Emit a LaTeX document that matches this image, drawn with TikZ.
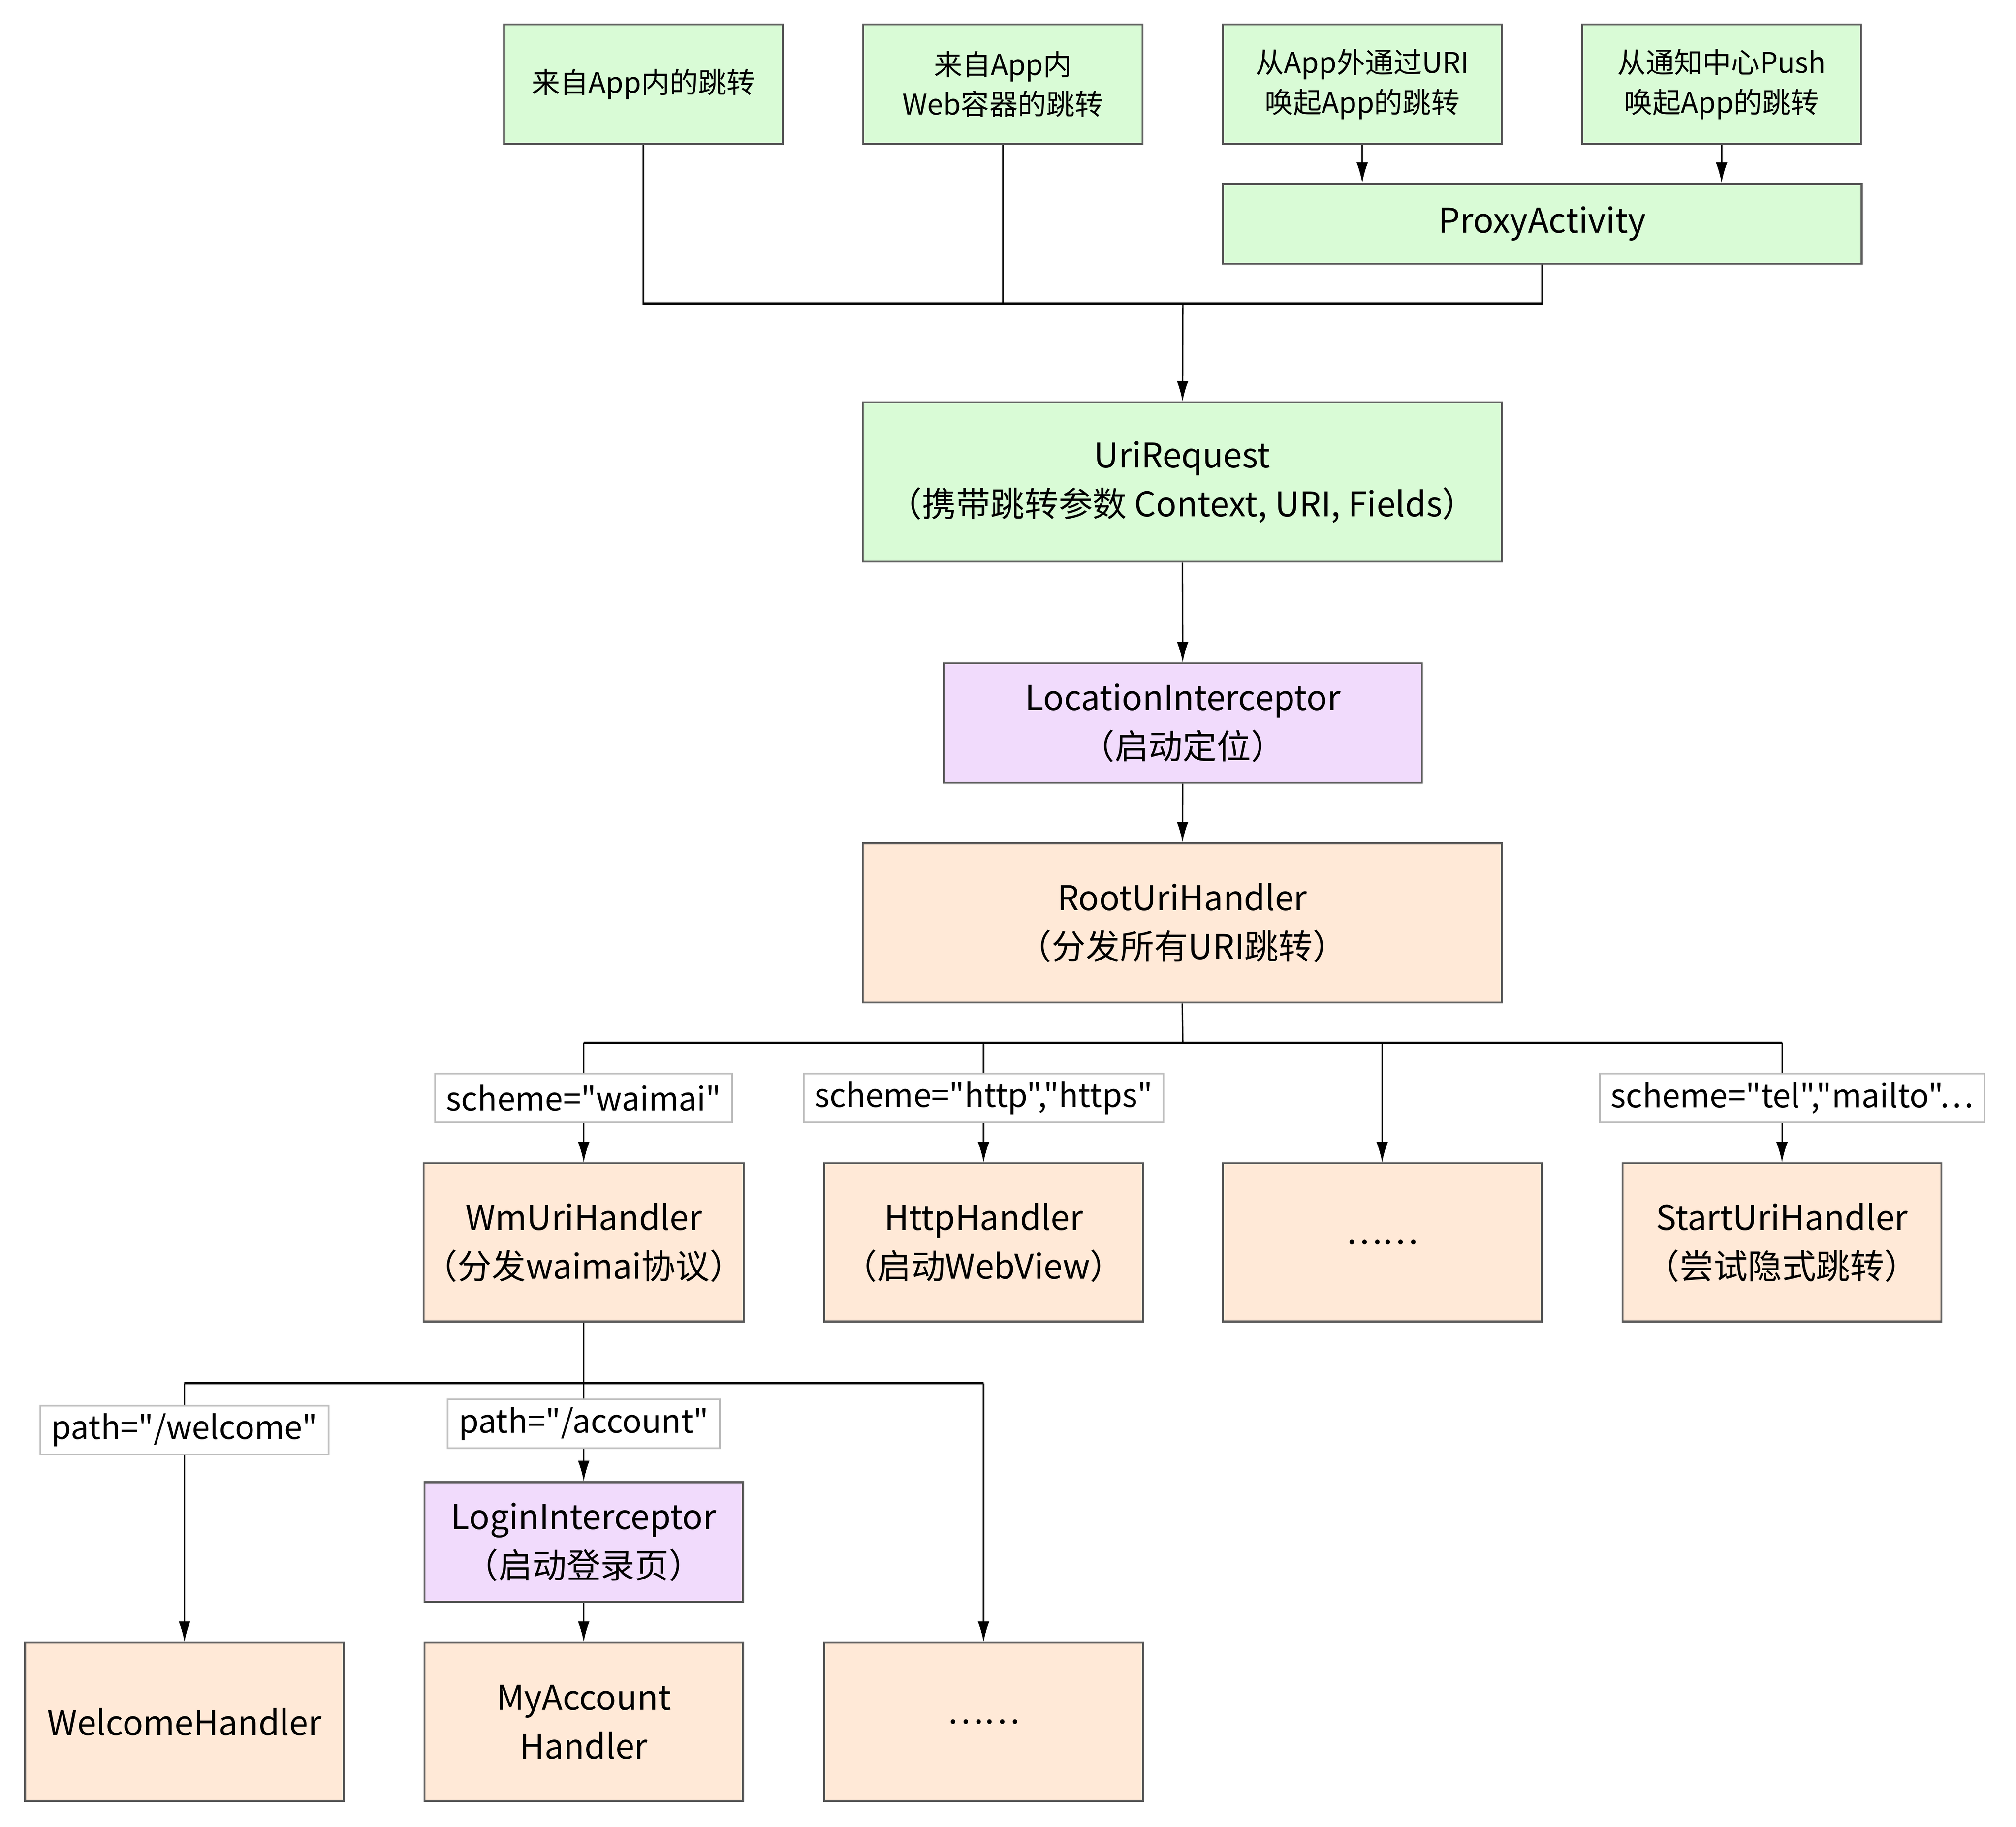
\documentclass[tikz,border=0pt]{standalone}
\usepackage{fontspec}
\setmainfont{Noto Sans CJK SC}[Ligatures=TeXOff]
\usepackage{xcolor}
\usepackage{tikz}
\usetikzlibrary{positioning}
\usetikzlibrary{arrows.meta}
\definecolor{srcgreen}{HTML}{D9FBD6}
\definecolor{hdlorange}{HTML}{FFE9D7}
\definecolor{icptpurple}{HTML}{F1DBFC}
\definecolor{boxline}{HTML}{5A5A5A}
\definecolor{tagline}{HTML}{BDBDBD}
\tikzset{edge/.style = {-{Latex[length=3.2mm,width=1.8mm]}}}

\begin{document}
\begin{tikzpicture}[x=0.02cm,y=-0.02cm,line width=0.6pt,
  box/.style={draw=boxline,line width=0.8pt,align=center,inner sep=0pt,font=\fontsize{15.1pt}{21.6pt}\selectfont},
  src node/.style={box,fill=srcgreen,minimum width=4.34cm,minimum height=1.86cm,font=\fontsize{12.6pt}{17.6pt}\selectfont},
  green node/.style={box,fill=srcgreen,minimum width=9.94cm},
  hdl node/.style={box,fill=hdlorange,minimum width=4.96cm,minimum height=2.46cm},
  icpt node/.style={box,fill=icptpurple,minimum height=1.86cm},
  tag/.style={draw=tagline,line width=0.8pt,fill=white,inner xsep=0.17cm,inner ysep=0pt,minimum height=0.76cm,font=\fontsize{14.3pt}{17pt}\selectfont},
  bus/.style={line width=0.9pt}]
  \useasboundingbox (0,0) rectangle (1568,1421);

  % sources
  \node[src node] (inapp) at (500.5,65.5) {来自App内的跳转};
  \node[src node] (inweb) at (780,65.5) {来自App内\\Web容器的跳转};
  \node[src node] (outuri) at (1059.5,65.5) {从App外通过URI\\唤起App的跳转};
  \node[src node] (push) at (1339,65.5) {从通知中心Push\\唤起App的跳转};
  \node[green node, minimum height=1.24cm] (proxy) at (1199.5,174) {ProxyActivity};

  \node[green node, minimum height=2.48cm] (req) at (919.5,375) {UriRequest\\（携带跳转参数 Context, URI, Fields）};
  \node[icpt node, minimum width=7.44cm] (loc) at (920,562.5) {LocationInterceptor\\（启动定位）};
  \node[hdl node, minimum width=9.94cm, minimum height=2.48cm] (root) at (919.5,718) {RootUriHandler\\（分发所有URI跳转）};

  % second level
  \node[hdl node] (wm) at (454,966.5) {WmUriHandler\\（分发waimai协议）};
  \node[hdl node] (http) at (765,966.5) {HttpHandler\\（启动WebView）};
  \node[hdl node] (more) at (1075,966.5) {……};
  \node[hdl node] (start) at (1386,966.5) {StartUriHandler\\（尝试隐式跳转）};

  % third level
  \node[icpt node, minimum width=4.96cm] (login) at (454,1199.5) {LoginInterceptor\\（启动登录页）};
  \node[hdl node] (welcome) at (143.5,1339.5) {WelcomeHandler};
  \node[hdl node] (account) at (454,1339.5) {MyAccount\\Handler};
  \node[hdl node] (moresub) at (765,1339.5) {……};

  \coordinate (topbus) at (920,236);
  \coordinate (rootbus) at (920,811);
  \coordinate (wmbus) at (454,1076);

  \draw[edge] (outuri.south) -- (outuri.south |- proxy.north);
  \draw[edge] (push.south) -- (push.south |- proxy.north);
  \draw[bus] (inapp.south) |- (topbus) -| (proxy.south);
  \draw (inweb.south) -- (inweb.south |- topbus);
  \draw[edge] (topbus) -- (req);
  \draw[edge] (req) -- (loc);
  \draw[edge] (loc) -- (root);

  \draw (root.south) -- (rootbus);
  \draw[bus] (wm.north |- rootbus) -- (start.north |- rootbus);
  \draw[edge] (wm.north |- rootbus) -- (wm.north);
  \draw[edge] (http.north |- rootbus) -- (http.north);
  \draw[edge] (more.north |- rootbus) -- (more.north);
  \draw[edge] (start.north |- rootbus) -- (start.north);

  \draw (wm.south) -- (wmbus);
  \draw[bus] (welcome.north |- wmbus) -- (moresub.north |- wmbus);
  \draw[edge] (welcome.north |- wmbus) -- (welcome.north);
  \draw[edge] (wmbus) -- (login.north);
  \draw[edge] (login) -- (account);
  \draw[edge] (moresub.north |- wmbus) -- (moresub.north);

  % match labels
  \node[tag] (waimai) at (454,854) {scheme="waimai"};
  \node[tag] (https) at (765,854) {scheme="http","https"};
  \node[tag] (tel) at (1394,854) {scheme="tel","mailto"…};
  \node[tag] (pwel) at (143.5,1112.5) {path="/welcome"};
  \node[tag] (pacc) at (454,1107.5) {path="/account"};
\end{tikzpicture}
\end{document}
